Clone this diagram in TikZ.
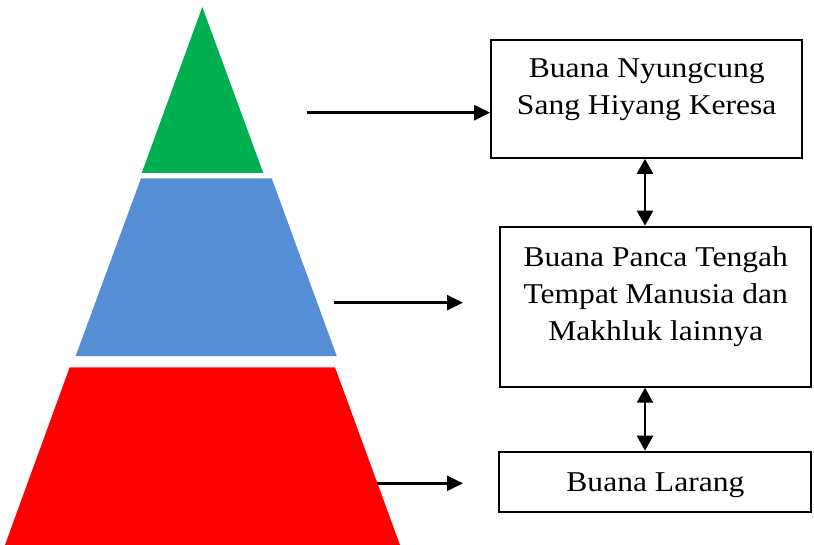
\documentclass[tikz,border=0pt]{standalone}
\usepackage{fontspec}
\setmainfont{Liberation Serif}[FakeStretch=1.1]
\usetikzlibrary{arrows.meta}
\definecolor{hijau}{RGB}{0,176,80}
\definecolor{biru}{RGB}{85,142,213}
\definecolor{merah}{RGB}{255,0,0}
\begin{document}
\begin{tikzpicture}[x=1pt, y=-1pt,
	kotak/.style={draw, line width=2pt, align=center, inner sep=0pt, font=\fontsize{28.7}{37}\selectfont},
	panah/.style={line width=2.4pt, -{Triangle[length=16pt,width=15pt]}},
	panahdua/.style={line width=2.4pt, {Triangle[length=15pt,width=16pt]}-{Triangle[length=15pt,width=16pt]}}]
	\useasboundingbox (0,0) rectangle (814,545);
	%piramida
	\fill[hijau] (202.3,7)    -- (263.3,173)   -- (141.7,173) -- cycle;
	\fill[biru]  (141,178.3)  -- (271.7,178.3) -- (336.7,356) -- (75.7,356) -- cycle;
	\fill[merah] (69.7,367.3) -- (335,367.3)   -- (400,545)   -- (5,545)    -- cycle;
	\node[kotak, minimum width=311pt, minimum height=118pt, text depth=24pt]   (nyungcung) at (646.7,98.9) {Buana Nyungcung\\Sang Hiyang Keresa};
	\node[kotak, minimum width=311.5pt, minimum height=160pt, text depth=25.6pt] (panca)   at (655.7,306.7) {Buana Panca Tengah\\Tempat Manusia dan\\Makhluk lainnya};
	\node[kotak, minimum width=312pt, minimum height=60.6pt, text height=25.6pt, text depth=6.2pt] (larang) at (655.4,482) {Buana Larang};
	\coordinate (a1) at (307,112.7);
	\coordinate (a2) at (334,302.7);
	\coordinate (b2) at (463,302.7);
	\coordinate (a3) at (377,483.3);
	\coordinate (b3) at (463,483.3);
	\coordinate (tengah) at (645,0);
	\draw[panah] (a1) -- (a1 -| nyungcung.west);
	\draw[panah] (a2) -- (b2);
	\draw[panah] (a3) -- (b3);
	\draw[panahdua] (nyungcung.south -| tengah) -- (panca.north -| tengah);
	\draw[panahdua] (panca.south -| tengah) -- (larang.north -| tengah);
\end{tikzpicture}
\end{document}
